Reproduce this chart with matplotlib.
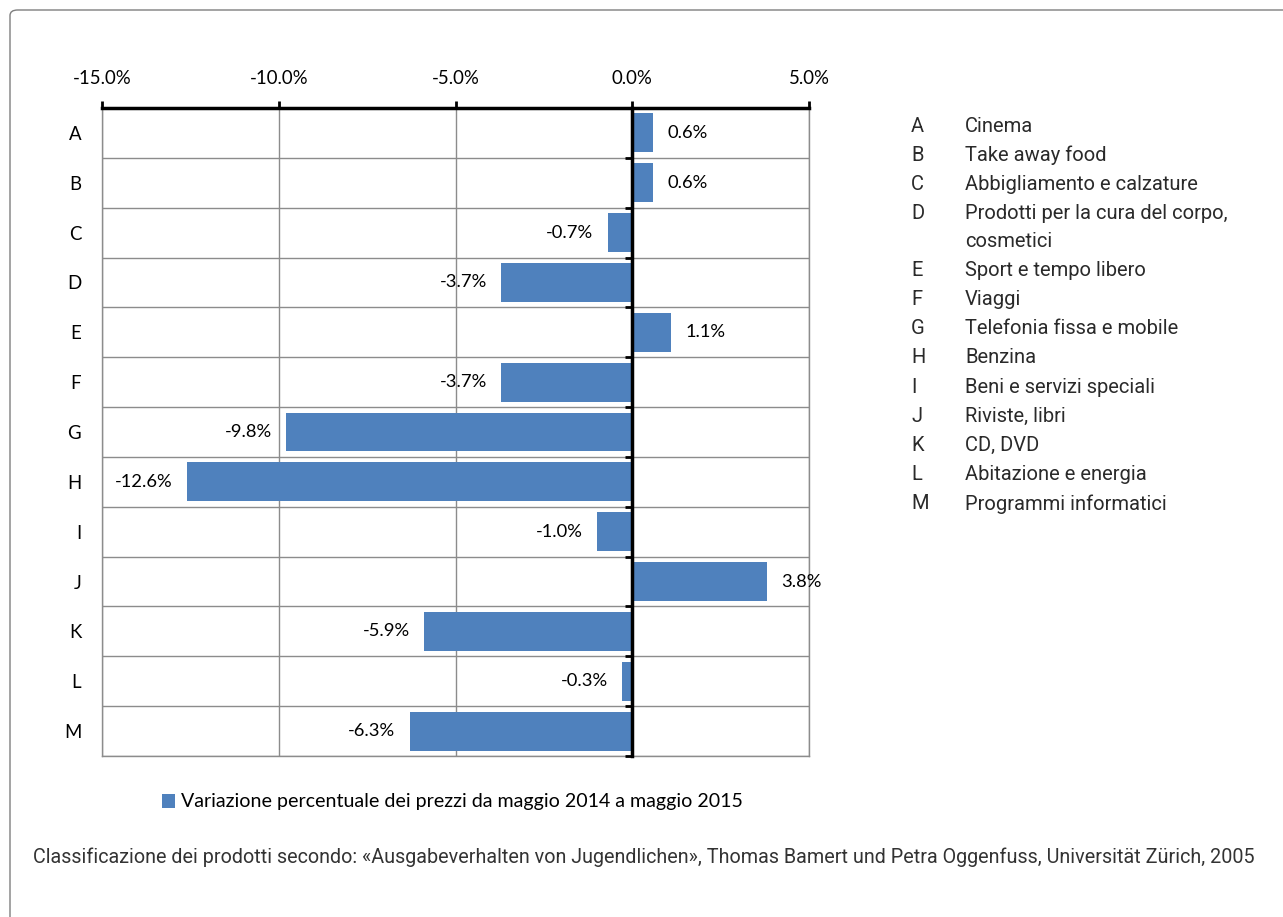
import numpy as np
import matplotlib
matplotlib.use('Agg')
from matplotlib import pyplot as plt, patches

categories = ['A', 'B', 'C', 'D', 'E', 'F', 'G', 'H', 'I', 'J', 'K', 'L', 'M']
values = [0.6, 0.6, -0.7, -3.7, 1.1, -3.7, -9.8, -12.6, -1.0, 3.8, -5.9, -0.3, -6.3]
names = ['Cinema', 'Take away food', 'Abbigliamento e calzature',
         'Prodotti per la cura del corpo,\ncosmetici', 'Sport e tempo libero', 'Viaggi',
         'Telefonia fissa e mobile', 'Benzina', 'Beni e servizi speciali', 'Riviste, libri',
         'CD, DVD', 'Abitazione e energia', 'Programmi informatici']
x_ticks = [-15, -10, -5, 0, 5]
series_label = 'Variazione percentuale dei prezzi da maggio 2014 a maggio 2015'
footnote = ('Classificazione dei prodotti secondo: «Ausgabeverhalten von Jugendlichen», '
            'Thomas Bamert und Petra Oggenfuss, Universität Zürich, 2005')

W, H = 1283, 917
blue = '#4F81BD'
grid_gray = '#8C8C8C'
chart_font = 'Lato'
list_font = 'Roboto'

fig = plt.figure(figsize=(W / 100, H / 100), dpi=100)
ax = fig.add_axes([102 / W, 1 - 756 / H, (809 - 102) / W, (756 - 108) / H])

y = np.arange(len(categories))
bars = ax.barh(y, values, height=0.78, color=blue, label=series_label, zorder=3)

ax.set_xlim(-15, 5)
ax.set_ylim(len(categories) - 0.5, -0.5)

# top axis with percent labels
ax.xaxis.tick_top()
ax.set_xticks(x_ticks)
ax.set_xticklabels([f'{t:.1f}%' for t in x_ticks], fontsize=13.4, family=chart_font)
ax.tick_params(axis='x', direction='out', length=5, width=2, color='black', pad=10)

# category labels and row gridlines
ax.set_yticks(y)
ax.set_yticklabels(categories, fontsize=13.4, family=chart_font)
ax.set_yticks(np.arange(-0.5, len(categories), 1), minor=True)
ax.tick_params(axis='y', which='major', length=0, pad=15)
ax.tick_params(axis='y', which='minor', length=0)
ax.grid(axis='y', which='minor', color=grid_gray, lw=1, zorder=0)
ax.grid(axis='x', which='major', color=grid_gray, lw=1, zorder=0)
ax.set_axisbelow(True)

for side in ['left', 'right', 'bottom']:
    ax.spines[side].set_color(grid_gray)
    ax.spines[side].set_linewidth(1)
ax.spines['top'].set_color('black')
ax.spines['top'].set_linewidth(2.5)

# vertical zero axis with small ticks at row boundaries
ax2 = ax.twinx()
ax2.set_ylim(ax.get_ylim())
ax2.spines['right'].set_position(('data', 0))
ax2.spines['right'].set_linewidth(2.5)
ax2.spines['right'].set_zorder(5)
for side in ['left', 'top', 'bottom']:
    ax2.spines[side].set_visible(False)
ax2.set_yticks(np.arange(-0.5, len(categories), 1))
ax2.set_yticklabels([])
ax2.tick_params(axis='y', direction='in', length=5, width=2, color='black')

# data labels
for yi, v in zip(y, values):
    off = 0.4 if v >= 0 else -0.4
    ax.text(v + off, yi, f'{v:.1f}%', ha='left' if v >= 0 else 'right', va='center',
            fontsize=13.2, family=chart_font, zorder=4)

# legend below the chart
fig.legend(handles=[bars], labels=[series_label], loc='center left',
           bbox_to_anchor=(144 / W, 1 - 802 / H), frameon=False,
           prop={'family': chart_font, 'size': 14.1},
           handlelength=0.7, handleheight=0.7, handletextpad=0.3)

# category explanation list on the right
ty = 1 - 126 / H
step = 29.2 / H
for code, name in zip(categories, names):
    fig.text(911 / W, ty, code, fontsize=14.5, family=list_font, va='center', color='#2a2a2a')
    lines = name.split('\n')
    for k, line in enumerate(lines):
        fig.text(965 / W, ty - k * (27.5 / H), line, fontsize=14.5, family=list_font,
                 va='center', color='#2a2a2a')
    ty -= step * len(lines) - (1.7 / H if len(lines) > 1 else 0)

fig.text(643.5 / W, 1 - 857 / H, footnote, ha='center', va='center',
         fontsize=14.2, family=list_font, color='#333333')

# rounded frame around the figure
frame = patches.FancyBboxPatch((10 / W, -0.05), 1.2, 1 - 10 / H + 0.05,
                               boxstyle='round,pad=0,rounding_size=0.006',
                               transform=fig.transFigure, fill=False,
                               ec='#7F7F7F', lw=1)
fig.patches.append(frame)

fig.savefig('out.png', dpi=100)
